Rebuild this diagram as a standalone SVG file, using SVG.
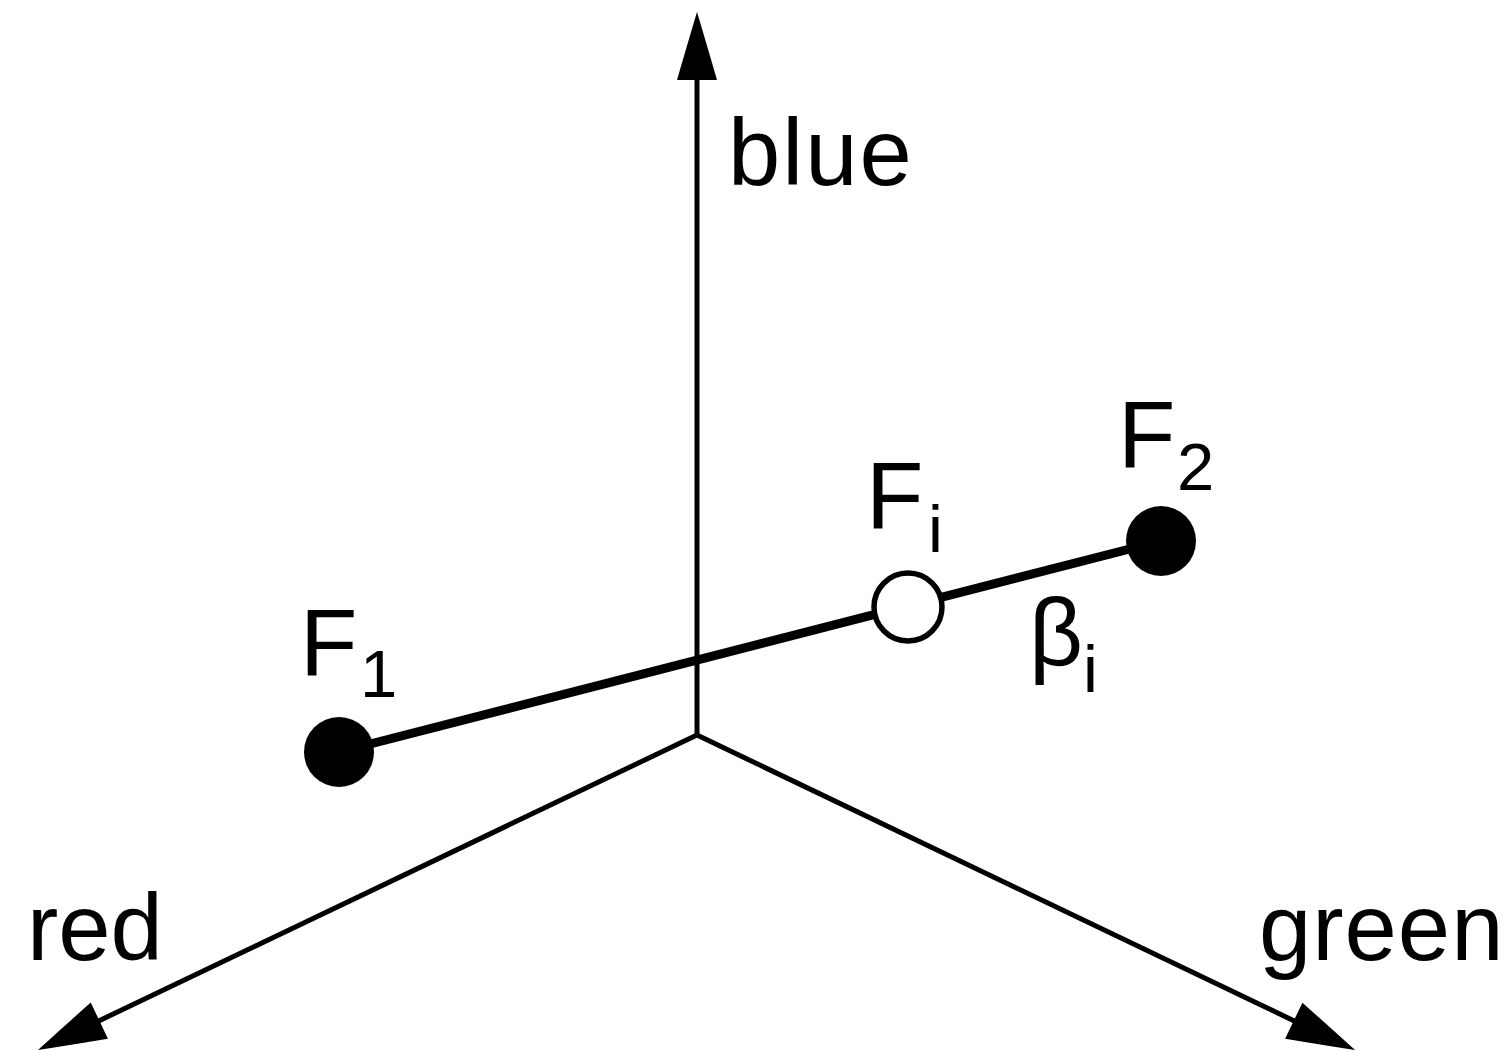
<svg xmlns="http://www.w3.org/2000/svg" width="1511" height="1051" viewBox="0 0 1511 1051">
<defs>
<style>
.axis{stroke:#000;stroke-width:5;fill:none}
.seg{stroke:#000;stroke-width:9;fill:none}
.t{font-family:"Liberation Sans",Arial,sans-serif;font-size:94px;fill:#000}
.s{font-family:"Liberation Sans",Arial,sans-serif;font-size:67px;fill:#000}
</style>
<marker id="arr" viewBox="-70 -25 75 50" markerWidth="75" markerHeight="50" refX="-50" refY="0" orient="auto" markerUnits="userSpaceOnUse" overflow="visible">
<path d="M0,0 Q-30,-9 -68,-20 L-68,20 Q-30,9 0,0 Z" fill="#000"/>
</marker>
</defs>
<rect width="1511" height="1051" fill="#fff"/>
<g id="connectors">
<line class="axis" x1="697" y1="737" x2="697" y2="62" marker-end="url(#arr)"/>
<line class="axis" x1="697" y1="735" x2="83.1" y2="1028.4" marker-end="url(#arr)"/>
<line class="axis" x1="697" y1="735" x2="1310" y2="1028.5" marker-end="url(#arr)"/>
<line class="seg" x1="339" y1="752" x2="1161" y2="541"/>
</g>
<g id="F1"><circle cx="339" cy="752" r="35" fill="#000"/><text class="t" x="300" y="675">F</text><text class="s" x="360" y="697">1</text></g>
<g id="F2"><circle cx="1161" cy="541" r="35" fill="#000"/><text class="t" x="1118" y="467">F</text><text class="s" x="1177" y="490">2</text></g>
<g id="Fi"><circle cx="908" cy="607" r="34" fill="#fff" stroke="#000" stroke-width="5.5"/><text class="t" x="866" y="528">F</text><text class="s" x="928" y="552">i</text></g>
<g id="beta"><text class="t" x="1029" y="665">β</text><text class="s" x="1083" y="692">i</text></g>
<g id="labels">
<text class="t" x="728" y="185" letter-spacing="2">blue</text>
<text class="t" x="27" y="960">red</text>
<text class="t" x="1259" y="960" letter-spacing="1">green</text>
</g>
</svg>
